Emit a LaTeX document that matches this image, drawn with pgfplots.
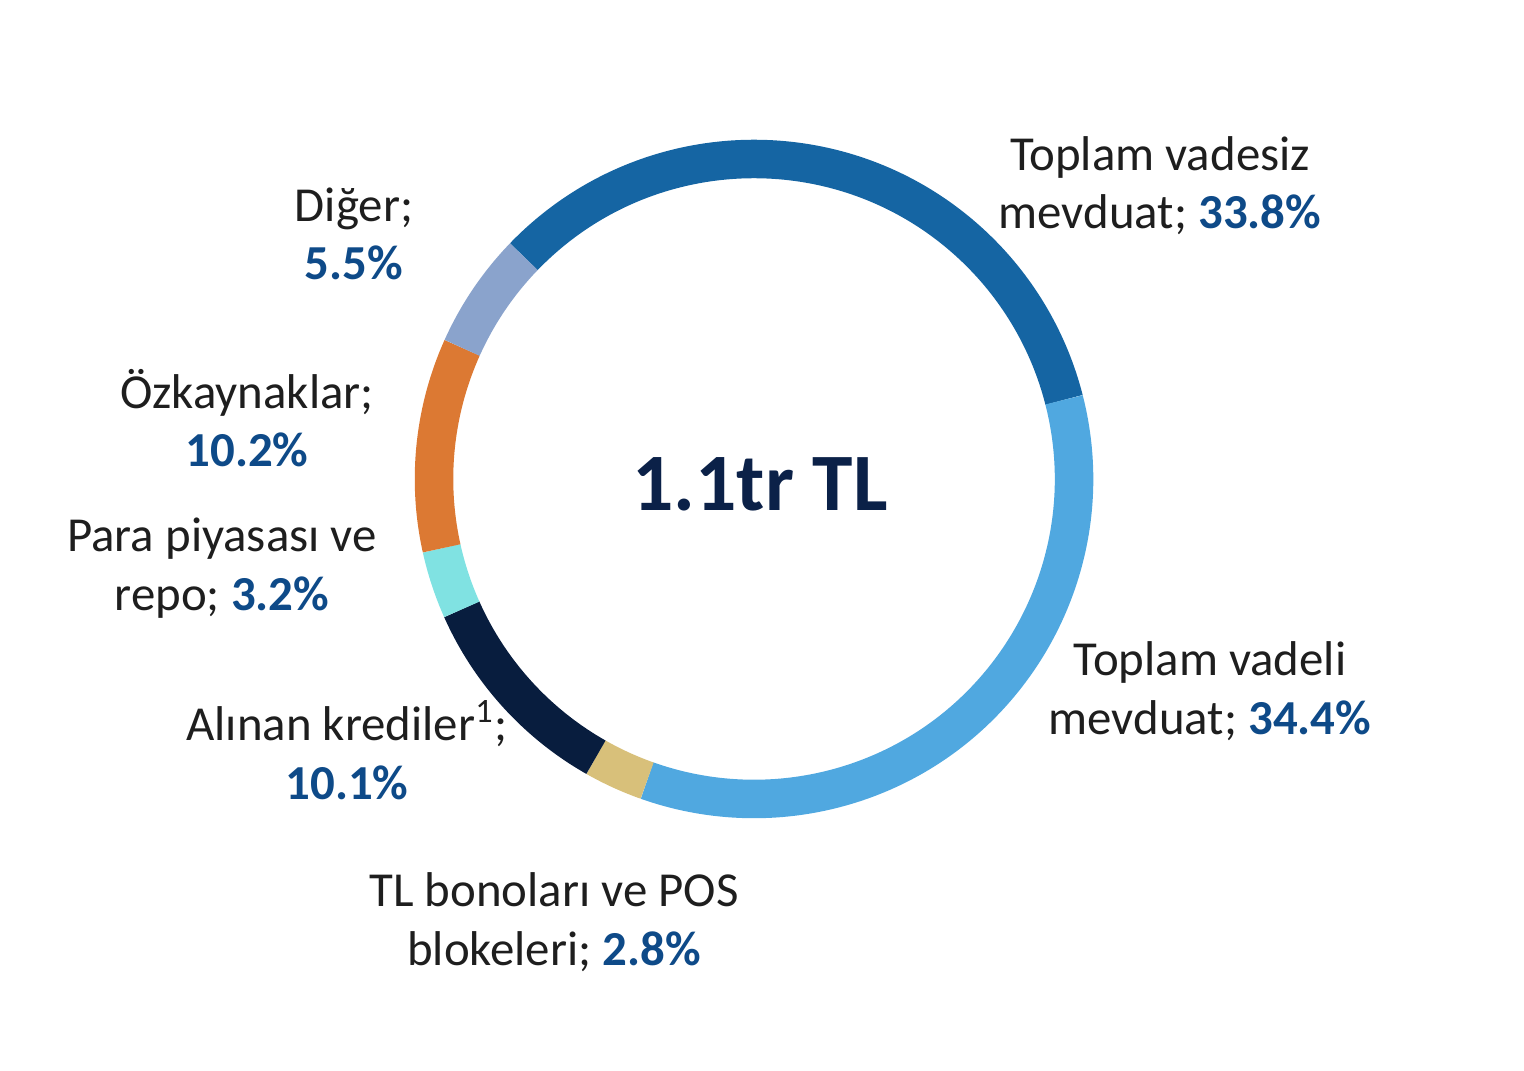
\documentclass[border=0pt]{standalone}
\usepackage{pgfplots}
\pgfplotsset{compat=1.18}
\usepackage{pgfplotstable}
\usepackage{fontspec}
\setmainfont{Carlito}
\definecolor{cVadesiz}{RGB}{21,101,163}
\definecolor{cVadeli}{RGB}{80,168,224}
\definecolor{cBono}{RGB}{216,192,122}
\definecolor{cKredi}{RGB}{8,29,62}
\definecolor{cPara}{RGB}{128,226,226}
\definecolor{cOz}{RGB}{220,121,51}
\definecolor{cDiger}{RGB}{138,163,204}
\definecolor{cPct}{RGB}{14,74,136}
\definecolor{cTxt}{RGB}{30,30,30}
\definecolor{cCenter}{RGB}{11,33,72}
% share of each item, clockwise from the top-left
\pgfplotstableread{
value color
33.8 cVadesiz
34.4 cVadeli
2.8 cBono
10.1 cKredi
3.2 cPara
10.2 cOz
5.5 cDiger
}\ringdata
\newcommand{\pct}[1]{\textbf{\color{cPct}#1}}
\tikzset{lbl/.style={align=center, text=cTxt, font=\fontsize{13.9}{16.6}\selectfont}}
\begin{document}
\begin{tikzpicture}
\begin{axis}[
  scale only axis, width=15.24cm, height=10.71cm,
  xmin=0, xmax=1524, ymin=0, ymax=1071,
  axis lines=none, clip=false,
]
\path (axis cs:0,0) rectangle (axis cs:1524,1071);
\xdef\cum{136}
\pgfplotstablegetrowsof{\ringdata}
\pgfmathtruncatemacro{\nrows}{\pgfplotsretval-1}
\foreach \i in {0,...,\nrows}{
  \pgfplotstablegetelem{\i}{value}\of\ringdata
  \let\v\pgfplotsretval
  \pgfplotstablegetelem{\i}{color}\of\ringdata
  \let\c\pgfplotsretval
  \pgfmathsetmacro{\a}{\cum}
  \pgfmathsetmacro{\b}{\cum-3.6*\v}
  \pgfmathsetmacro{\xs}{754+320*cos(\a)}
  \pgfmathsetmacro{\ys}{592+320*sin(\a)}
  \edef\temp{\noexpand\draw[line width=0.385cm, color=\c] (axis cs:\xs,\ys) arc[start angle=\a, end angle=\b, radius=3.2cm];}
  \temp
  \xdef\cum{\b}
}
\node[align=center, text=cCenter, font=\fontsize{23.2}{28}\selectfont\bfseries] at (axis cs:760,587) {1.1tr TL};
\node[lbl] at (axis cs:1160,885) {Toplam vadesiz\\ mevduat; \pct{33.8\%}};
\node[lbl] at (axis cs:1210,380) {Toplam vadeli\\ mevduat; \pct{34.4\%}};
\node[lbl] at (axis cs:554,149) {TL bonoları ve POS\\ blokeleri; \pct{2.8\%}};
\node[lbl] at (axis cs:347,321) {Alınan krediler\textsuperscript{1};\\ \pct{10.1\%}};
\node[lbl] at (axis cs:222,503) {Para piyasası ve\\ repo; \pct{3.2\%}};
\node[lbl] at (axis cs:247,653) {Özkaynaklar;\\ \pct{10.2\%}};
\node[lbl] at (axis cs:354,837) {Diğer;\\ \pct{5.5\%}};
\end{axis}
\end{tikzpicture}
\end{document}
